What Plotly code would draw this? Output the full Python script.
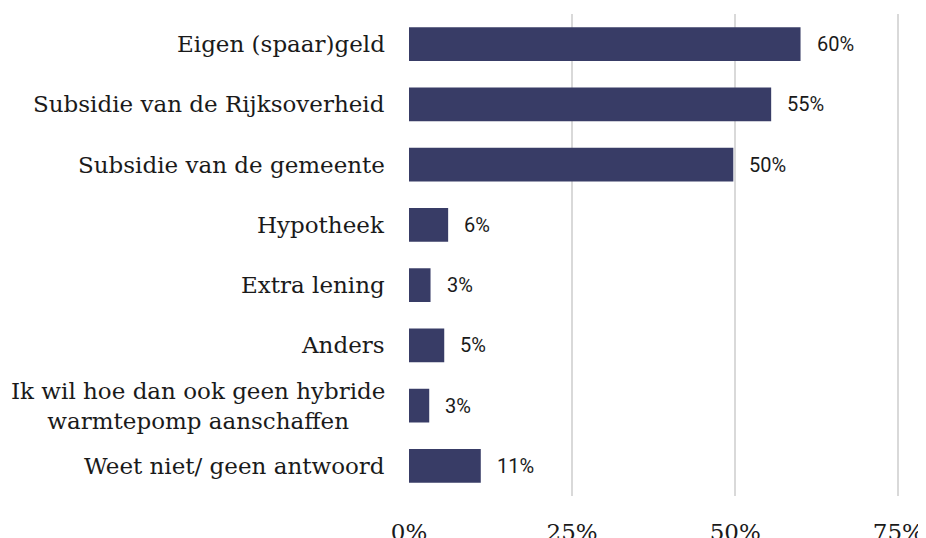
import plotly.graph_objects as go

categories = [
    "Eigen (spaar)geld",
    "Subsidie van de Rijksoverheid",
    "Subsidie van de gemeente",
    "Hypotheek",
    "Extra lening",
    "Anders",
    "Ik wil hoe dan ook geen hybride<br>warmtepomp aanschaffen",
    "Weet niet/ geen antwoord",
]
values = [0.60, 0.555, 0.497, 0.06, 0.033, 0.054, 0.031, 0.11]
value_labels = ["60%", "55%", "50%", "6%", "3%", "5%", "3%", "11%"]
x_ticks = [0, 0.25, 0.5, 0.75]
x_tick_labels = ["0%", "25%", "50%", "75%"]

BAR_COLOR = "#383c66"
SERIF = "DejaVu Serif"
TEXT_COLOR = "#1a1a1a"

fig = go.Figure(
    go.Bar(
        x=values,
        y=categories,
        orientation="h",
        marker_color=BAR_COLOR,
        marker_line_width=0,
        width=0.56,
        hoverinfo="skip",
    )
)

# labels de valor um pouco afastados da ponta da barra
for cat, val, lab in zip(categories, values, value_labels):
    fig.add_annotation(
        x=val, y=cat, text=lab, showarrow=False,
        xanchor="left", xshift=14,
        font=dict(family="Roboto", size=20, color=TEXT_COLOR),
    )

# categorias como anotações para poder centralizar o texto de duas linhas
for cat in categories:
    fig.add_annotation(
        x=0, xref="paper", y=cat, text=cat, showarrow=False,
        xanchor="right", xshift=-22, align="center",
        font=dict(family=SERIF, size=23, color=TEXT_COLOR),
    )

# o body da página tem 8px de margem, por isso a figura é 8px menor
fig.update_layout(
    width=918,
    height=530,
    margin=dict(l=401, r=8, t=6, b=42),
    plot_bgcolor="white",
    paper_bgcolor="white",
    showlegend=False,
)
fig.update_xaxes(
    range=[0, 0.78],
    tickvals=x_ticks,
    ticktext=x_tick_labels,
    showgrid=True,
    gridcolor="#d9d9d9",
    gridwidth=2,
    zeroline=False,
    showline=False,
    automargin=False,
    ticklabelstandoff=20,
    tickfont=dict(family=SERIF, size=23, color=TEXT_COLOR),
)
fig.update_yaxes(
    categoryorder="array",
    categoryarray=categories[::-1],
    autorange=False,
    range=[-0.5, 7.5],
    showgrid=False,
    zeroline=False,
    showline=False,
    showticklabels=False,
    automargin=False,
)

fig.write_html("out.html")
